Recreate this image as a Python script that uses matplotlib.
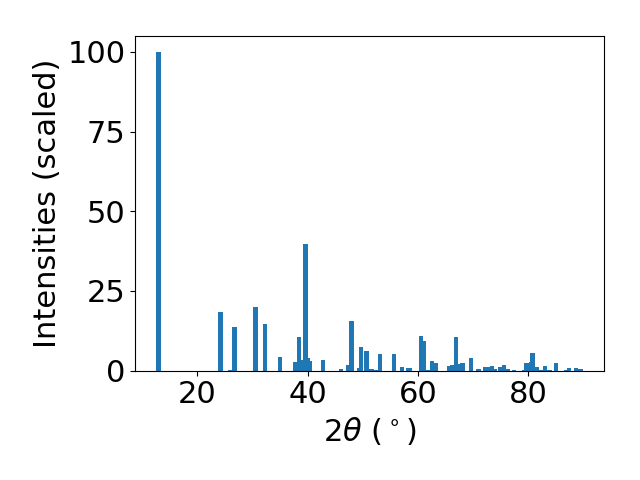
import matplotlib
matplotlib.use('Agg')
import matplotlib.pyplot as plt

# two-theta positions (deg) and scaled intensities
two_theta = [12.95, 24.2, 25.9, 26.7, 30.5, 32.3, 35.0, 37.8, 38.4, 38.8,
             39.6, 40.1, 40.35, 42.8, 46.0, 47.4, 47.95, 49.25, 49.7, 50.7,
             51.6, 52.3, 53.1, 55.6, 57.1, 58.3, 58.6, 60.5, 61.0, 61.8,
             62.5, 63.3, 65.6, 66.2, 66.9, 67.6, 68.1, 69.6, 71.0, 72.2,
             72.6, 73.4, 74.0, 74.9, 75.6, 76.2, 77.4, 79.3, 79.7, 80.5,
             80.8, 81.6, 82.2, 83.0, 83.6, 83.9, 85.0, 86.9, 87.4, 88.7,
             89.5]
intensities = [100.0, 18.4, 0.3, 13.7, 20.0, 14.7, 4.3, 2.7, 10.6, 3.3,
               39.8, 4.0, 3.0, 3.3, 0.6, 1.8, 15.6, 0.9, 7.4, 6.2,
               0.6, 0.3, 5.3, 5.3, 1.2, 0.9, 0.8, 10.9, 9.3, 0.3,
               3.0, 2.4, 1.5, 1.8, 10.6, 2.1, 2.4, 4.0, 0.6, 1.2,
               1.2, 1.5, 0.6, 1.2, 1.8, 0.6, 0.3, 0.3, 2.4, 2.7,
               5.6, 1.2, 0.3, 1.5, 0.3, 0.3, 2.4, 0.3, 0.9, 0.9,
               0.6]

fig, ax = plt.subplots(figsize=(6.4, 4.8), dpi=100)
ax.bar(two_theta, intensities)

ax.set_xlabel(r'2$\theta$ ($^\circ$)', fontsize=22)
ax.set_ylabel('Intensities (scaled)', fontsize=22)
ax.tick_params(labelsize=22)
ax.set_yticks([0, 25, 50, 75, 100])

fig.subplots_adjust(left=0.211, right=0.944, top=0.925, bottom=0.228)
fig.savefig('out.png')
